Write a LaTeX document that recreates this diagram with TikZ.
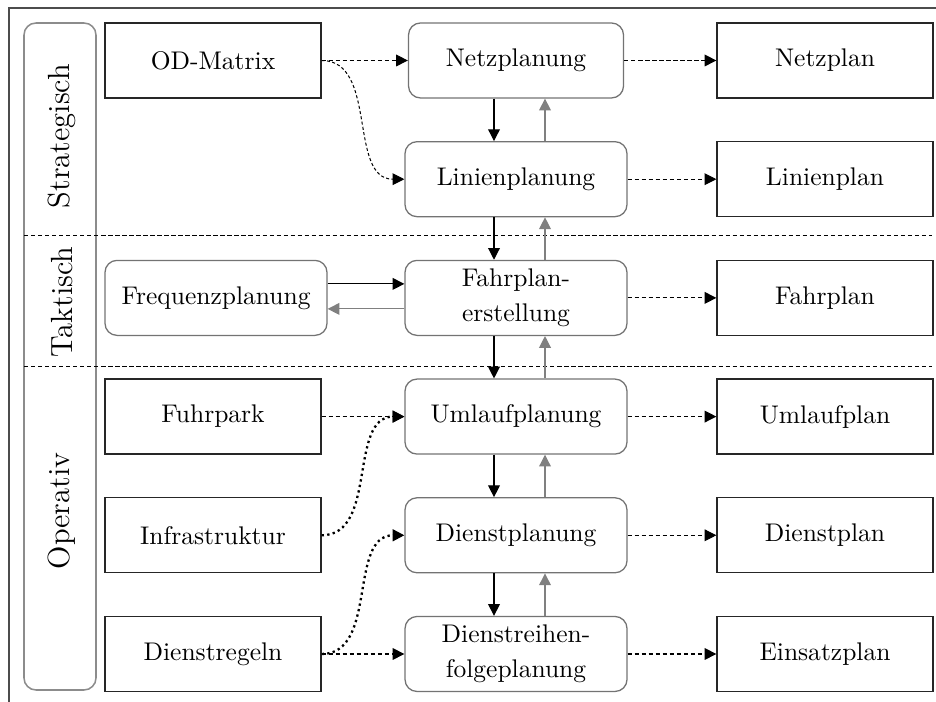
\documentclass[tikz,border=0pt]{standalone}
\usetikzlibrary{arrows.meta}
\def\pxu{0.392}
\tikzset{
  base/.style={minimum height=75*\pxu pt, inner sep=1pt, align=center,
    font=\fontsize{10}{13.7}\selectfont},
  rectbox/.style={base, draw=black!85, line width=0.5pt, minimum width=216*\pxu pt},
  roundbox/.style={base, draw=black!55, line width=0.5pt, rounded corners=4.7pt,
    minimum width=222*\pxu pt},
  tip/.style={-{Triangle[length=4.6pt,width=4.6pt]}, line width=0.45pt},
  graytip/.style={tip, draw=black!50, fill=black!50},
  dflow/.style={tip, line width=0.4pt, dash pattern=on 1.7pt off 1.05pt},
  dcurve/.style={tip, line width=0.4pt, dash pattern=on 1.2pt off 0.9pt},
  dotflow/.style={-{Triangle[length=4.6pt,width=4.6pt]}, line width=0.9pt,
    dash pattern=on 0.9pt off 1.3pt},
  sepline/.style={line width=0.35pt, dash pattern=on 1.7pt off 1.05pt},
  lanelabel/.style={rotate=90, font=\large, inner sep=0pt}
}
\begin{document}
\begin{tikzpicture}[x=\pxu pt, y=-\pxu pt]
\useasboundingbox (0,0) rectangle (936,702);
% outer frame
\draw[black!70, line width=0.5pt] (9,702) -- (9,8) -- (936,8);
% lane box and labels
\draw[black!45, line width=0.6pt, rounded corners=4.7pt] (24,23) rectangle (96,690);
\node[lanelabel] (lstrat) at (62,136) {Strategisch};
\node[lanelabel] (ltakt) at (62,302) {Taktisch};
\node[lanelabel] (lop) at (62,511) {Operativ};
% separators
\draw[sepline] (24,235) -- (932,235);
\draw[sepline] (24,366) -- (932,366);
% nodes
\node[rectbox] (od) at (213,60.5) {OD-Matrix};
\node[roundbox, minimum width=215*\pxu pt] (net) at (516,60.5) {Netzplanung};
\node[rectbox] (netp) at (825,60.5) {Netzplan};
\node[roundbox] (lin) at (516,179.2) {Linienplanung};
\node[rectbox] (linp) at (825,179.2) {Linienplan};
\node[roundbox] (freq) at (216,297.9) {Frequenzplanung};
\node[roundbox] (fahr) at (516,297.9) {Fahrplan-\\erstellung};
\node[rectbox] (fahrp) at (825,297.9) {Fahrplan};
\node[rectbox] (fuhr) at (213,416.6) {Fuhrpark};
\node[roundbox] (uml) at (516,416.6) {Umlaufplanung};
\node[rectbox] (umlp) at (825,416.6) {Umlaufplan};
\node[rectbox] (infra) at (213,535.3) {Infrastruktur};
\node[roundbox] (dienst) at (516,535.3) {Dienstplanung};
\node[rectbox] (dienstp) at (825,535.3) {Dienstplan};
\node[rectbox] (regeln) at (213,654) {Dienstregeln};
\node[roundbox] (reihe) at (516,654) {Dienstreihen-\\folgeplanung};
\node[rectbox] (einsatz) at (825,654) {Einsatzplan};
% vertical arrows
\foreach \a/\b in {net/lin, lin/fahr, fahr/uml, uml/dienst, dienst/reihe} {
  \draw[tip] ([xshift=-22*\pxu pt]\a.south) -- ([xshift=-22*\pxu pt]\b.north);
  \draw[graytip] ([xshift=29*\pxu pt]\b.north) -- ([xshift=29*\pxu pt]\a.south);
}
% outputs
\foreach \a/\b in {net/netp, lin/linp, fahr/fahrp, uml/umlp, dienst/dienstp, reihe/einsatz} {
  \draw[dflow] (\a.east) -- (\b.west);
}
% inputs
\draw[dflow] (od.east) -- (net.west);
\draw[dcurve] (od.east) to[out=0,in=180] (lin.west);
\draw[tip] ([yshift=14*\pxu pt]freq.east) -- ([yshift=14*\pxu pt]fahr.west);
\draw[graytip] ([yshift=-11*\pxu pt]fahr.west) -- ([yshift=-11*\pxu pt]freq.east);
\draw[dflow] (fuhr.east) -- (uml.west);
\draw[dotflow] (infra.east) to[out=0,in=180] (uml.west);
\draw[dotflow] (regeln.east) to[out=0,in=180] (dienst.west);
\draw[dflow] (regeln.east) -- (reihe.west);
\end{tikzpicture}
\end{document}
